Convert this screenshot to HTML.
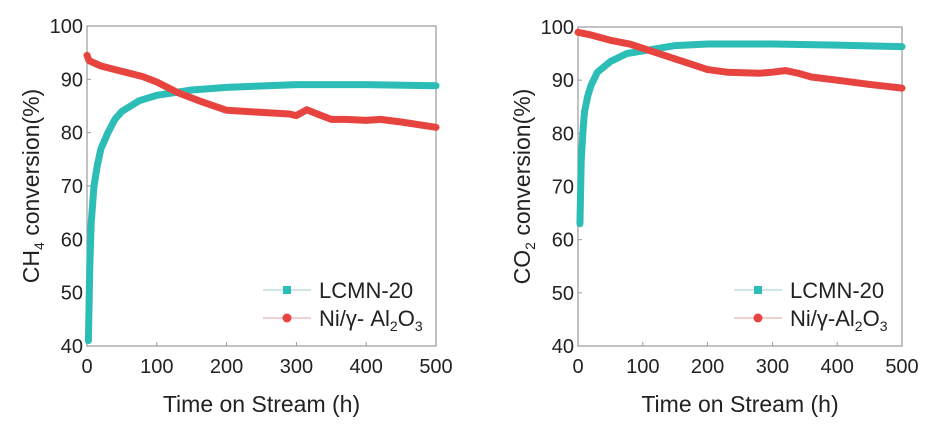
<!DOCTYPE html>
<html><head><meta charset="utf-8"><style>
body{margin:0;background:#fff;width:930px;height:427px;overflow:hidden}
svg{font-family:"Liberation Sans",sans-serif}
</style></head><body>
<svg id="s" width="930" height="427"></svg>
<script>
const xTicks=[0,100,200,300,400,500];
const yTicks=[40,50,60,70,80,90,100];
const ch4Time=[2,4,6,10,15,20,30,40,50,75,100,150,200,300,400,500];
const ch4Lcmn=[41,55,63,70,74,77,80,82.5,84,86,87,88,88.5,89,89,88.8];
const ch4NiTime=[0,3,20,50,80,100,130,160,200,250,290,300,315,330,350,370,400,420,450,500];
const ch4Ni=[94.5,93.5,92.5,91.5,90.5,89.5,87.5,86,84.2,83.8,83.5,83.2,84.3,83.5,82.5,82.5,82.3,82.5,82,81];
const co2Time=[3,5,8,10,15,20,30,50,75,100,150,200,300,400,500];
const co2Lcmn=[63,75,81,84,87,89,91.5,93.5,95,95.5,96.5,96.8,96.8,96.6,96.3];
const co2NiTime=[0,20,50,80,100,120,150,200,230,280,300,320,340,360,400,450,500];
const co2Ni=[99,98.5,97.5,96.8,96,95.2,94,92,91.5,91.3,91.5,91.8,91.3,90.6,90,89.2,88.5];
const NS="http://www.w3.org/2000/svg";
const svg=document.getElementById('s');
function el(t,a,p){const e=document.createElementNS(NS,t);for(const k in a)e.setAttribute(k,a[k]);(p||svg).appendChild(e);return e;}
function panel(cfg){
  const g=el('g',{});
  
  
  const X=v=>cfg.x0+(cfg.x1-cfg.x0)*v/500;
  const Y=v=>cfg.y1-(cfg.y1-cfg.y0)*(v-40)/60;
  const frame=el('rect',{x:cfg.x0,y:cfg.y0,width:cfg.x1-cfg.x0,height:cfg.y1-cfg.y0,fill:'none',stroke:'#999','stroke-width':1.2},g);
  
  
  xTicks.forEach(t=>{
    el('line',{x1:X(t),x2:X(t),y1:cfg.y1,y2:cfg.y1-4,stroke:'#999'},g);
    const tx=el('text',{x:X(t),y:cfg.y1+27,'text-anchor':'middle','font-size':20,fill:'#222'},g);tx.textContent=t;
    
    
  });
  yTicks.forEach(t=>{
    el('line',{x1:cfg.x0,x2:cfg.x0+4,y1:Y(t),y2:Y(t),stroke:'#999'},g);
    const tx=el('text',{x:cfg.x0-4,y:Y(t)+7,'text-anchor':'end','font-size':20,fill:'#222'},g);tx.textContent=t;
    
    
  });
  const xt=el('text',{x:(cfg.x0+cfg.x1)/2,y:412,'text-anchor':'middle','font-size':23,fill:'#222'},g);
  xt.textContent='Time on Stream (h)';
  
  
  const yt=el('text',{transform:`translate(${cfg.x0-48},${(cfg.y0+cfg.y1)/2}) rotate(-90)`,'text-anchor':'middle','font-size':23,fill:'#222'},g);
  yt.innerHTML=cfg.ylab;
  
  
  const line=(xs,ys,c,w)=>{const p=el('path',{d:xs.map((x,i)=>(i?'L':'M')+X(x)+','+Y(ys[i])).join(''),fill:'none',stroke:c,'stroke-width':w,'stroke-linejoin':'round','stroke-linecap':'round'},g);return p;};
  const a=line(cfg.tT,cfg.tV,'#2bbdb6',7);
  
  
  const b=line(cfg.rT,cfg.rV,'#e8443f',7);
  
  
  const lx=cfg.lx;
  const l1=el('g',{},g);
  
  
  el('line',{x1:lx,x2:lx+48,y1:290,y2:290,stroke:'#9ccfcc','stroke-width':1},l1);
  el('rect',{x:lx+20,y:286,width:8,height:8,fill:'#2bbdb6'},l1);
  const t1=el('text',{x:lx+56,y:298,'font-size':22,fill:'#222'},l1);t1.textContent='LCMN-20';
  const l2=el('g',{},g);
  
  
  el('line',{x1:lx,x2:lx+48,y1:318,y2:318,stroke:'#e0a0a0','stroke-width':1},l2);
  el('circle',{cx:lx+24,cy:318,r:4.5,fill:'#e8443f'},l2);
  const t2=el('text',{x:lx+56,y:326,'font-size':22,fill:'#222'},l2);t2.innerHTML=cfg.nilab;
}
panel({name:'ch4-conversion-chart',x0:87,x1:436,y0:26,y1:346,lx:263,ylab:'CH<tspan font-size="14" dy="5">4</tspan><tspan dy="-5"> conversion(%)</tspan>',nilab:'Ni/γ- Al<tspan font-size="14" dy="5">2</tspan><tspan dy="-5">O</tspan><tspan font-size="14" dy="5">3</tspan>',tT:ch4Time,tV:ch4Lcmn,rT:ch4NiTime,rV:ch4Ni});
panel({name:'co2-conversion-chart',x0:578,x1:902,y0:27,y1:346,lx:734,ylab:'CO<tspan font-size="14" dy="5">2</tspan><tspan dy="-5"> conversion(%)</tspan>',nilab:'Ni/γ-Al<tspan font-size="14" dy="5">2</tspan><tspan dy="-5">O</tspan><tspan font-size="14" dy="5">3</tspan>',tT:co2Time,tV:co2Lcmn,rT:co2NiTime,rV:co2Ni});
</script>
</body></html>
